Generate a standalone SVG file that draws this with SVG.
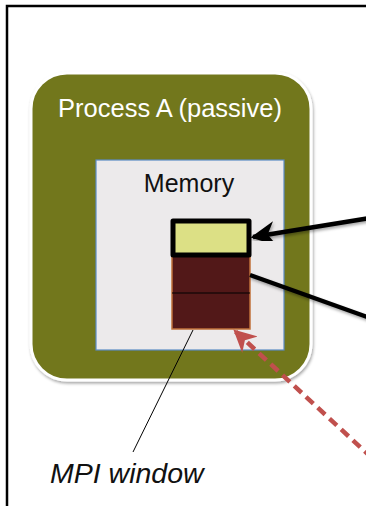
<svg xmlns="http://www.w3.org/2000/svg" width="366" height="506" viewBox="0 0 366 506">
<defs>
<style>
.t{font-family:"Liberation Sans",Arial,sans-serif}
</style>
<filter id="sh" x="-10%" y="-10%" width="130%" height="130%"><feDropShadow dx="1" dy="2" stdDeviation="1.5" flood-color="#000" flood-opacity="0.35"/></filter>
<marker id="ab" viewBox="0 0 10 10" refX="9" refY="5" markerWidth="5.5" markerHeight="5.5" orient="auto" markerUnits="strokeWidth"><path d="M0,0 L10,5 L0,10 L3,5 z" fill="#000"/></marker>
<marker id="ar" viewBox="0 0 10 10" refX="9" refY="5" markerWidth="5" markerHeight="5" orient="auto" markerUnits="strokeWidth"><path d="M0,0 L10,5 L0,10 L3,5 z" fill="#C0504D"/></marker>
</defs>
<rect width="366" height="506" fill="#fff"/>
<path d="M7,506 V6 H366" fill="none" stroke="#000" stroke-width="2.5"/>
<g id="processA">
<rect x="31" y="73" width="280" height="307" rx="36" fill="#72771F" stroke="#fff" stroke-width="3" filter="url(#sh)"/>
<text class="t" x="170" y="117" font-size="25.5" fill="#fff" text-anchor="middle">Process A (passive)</text>
</g>
<g id="memory">
<rect x="96" y="160" width="188" height="190" fill="#ECEAEB" stroke="#5B8BC4" stroke-width="1.2"/>
<text class="t" x="189" y="192" font-size="25" fill="#111" text-anchor="middle">Memory</text>
</g>
<g id="window">
<rect x="172" y="256" width="78" height="73" fill="#521818" stroke="#C0703A" stroke-width="1.5"/>
<line x1="172" y1="293" x2="250" y2="293" stroke="#000" stroke-width="1"/>
</g>
<g id="slot">
<rect x="173" y="221" width="76" height="34" fill="#DCE085" stroke="#000" stroke-width="5" stroke-linejoin="round"/>
</g>
<g id="connectors">
<line x1="370" y1="218" x2="253" y2="237" stroke="#000" stroke-width="4.5" marker-end="url(#ab)" filter="url(#sh)"/>
<line x1="250" y1="275" x2="370" y2="318" stroke="#000" stroke-width="4.5" filter="url(#sh)"/>
<line x1="372" y1="458" x2="235" y2="331" stroke="#C0504D" stroke-width="4.5" stroke-dasharray="10,6" marker-end="url(#ar)"/>
<line x1="193" y1="330" x2="133" y2="452" stroke="#000" stroke-width="1"/>
</g>
<g id="label">
<text class="t" x="50" y="483" font-size="28.5" font-style="italic" fill="#111">MPI window</text>
</g>
</svg>
